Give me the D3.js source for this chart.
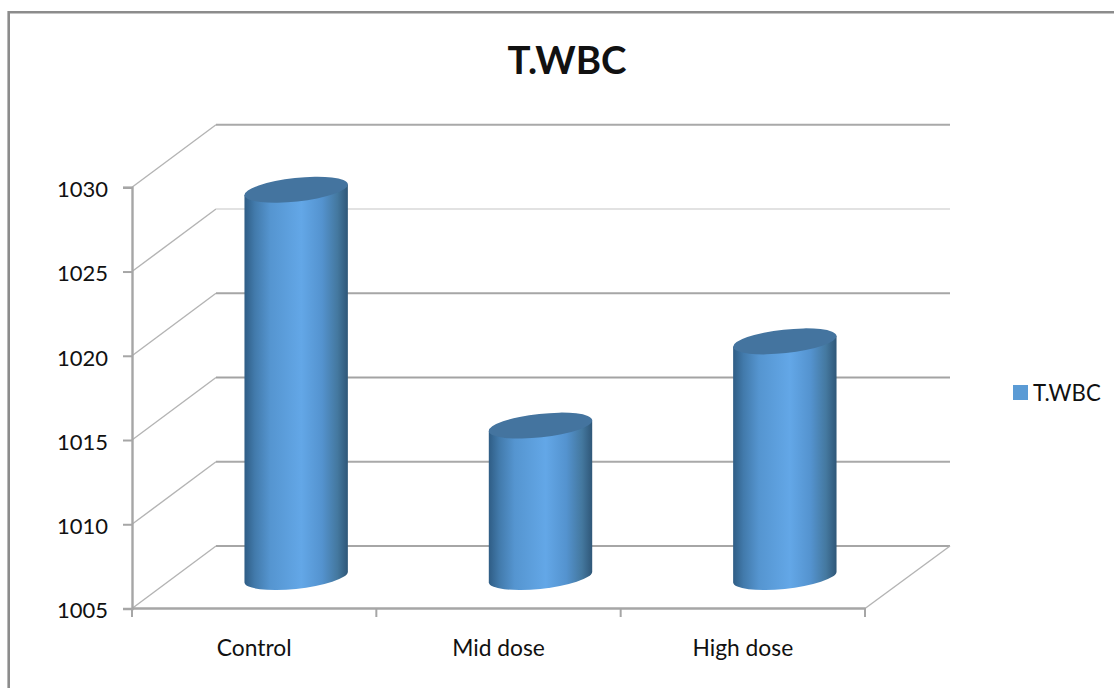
<!DOCTYPE html>
<html>
<head>
<meta charset="utf-8">
<script src="https://cdn.jsdelivr.net/npm/d3@7/dist/d3.min.js"></script>
<style>
  html, body { margin: 0; padding: 0; background: #fff; }
  svg { display: block; }
  text { font-family: Lato, "Open Sans", sans-serif; fill: #111; }
</style>
</head>
<body>
<svg id="chart" width="1114" height="688"></svg>
<script>
// Chart content
const chartTitle = "T.WBC";
const seriesName = "T.WBC";
const categories = ["Control", "Mid dose", "High dose"];
const seriesValues = [1028, 1014, 1019];
const valueTicks = [1005, 1010, 1015, 1020, 1025, 1030];
const gridShades = ["#a6a6a6", "#a9a9a9", "#a3a3a3", "#a6a6a6", "#e2e2e2", "#a9a9a9"];
const cylinderStops = [
  [0, "#2f5d85"], [0.1, "#427aab"], [0.25, "#5595d0"], [0.55, "#63a7e7"],
  [0.75, "#5493cf"], [0.9, "#44789f"], [1, "#2f5778"]
];

const svg = d3.select("#chart");

// Front plane scales; the back wall is the same plane shifted by the depth vector
const x = d3.scaleBand().domain(categories).range([132, 865]);
const y = d3.scaleLinear().domain([1005, 1030]).range([608.5, 187.3]);
const depth = { dx: 84, dy: -62.5 };
const project = (px, value, d) => [px + depth.dx * d, y(value) + depth.dy * d];

// Outer frame: only the top and left edges fall inside the view
svg.append("path")
  .attr("d", "M1114,12.3H8.7V688")
  .attr("fill", "none").attr("stroke", "#8c8c8c").attr("stroke-width", 2.6);

// Title
svg.append("text").attr("x", 567).attr("y", 73.5)
  .attr("text-anchor", "middle")
  .style("font-size", "38.5px").style("font-weight", 700)
  .text(chartTitle);

// Back wall gridlines and their return along the side wall
const grid = svg.append("g").attr("fill", "none");
valueTicks.forEach((v, i) => {
  const front = project(132, v, 0);
  const back = project(132, v, 1);
  const end = project(866, v, 1);
  grid.append("line")
    .attr("x1", front[0]).attr("y1", front[1]).attr("x2", back[0]).attr("y2", back[1])
    .attr("stroke", "#b4b4b4").attr("stroke-width", 1.4);
  grid.append("line")
    .attr("x1", back[0]).attr("y1", back[1]).attr("x2", end[0]).attr("y2", end[1])
    .attr("stroke", gridShades[i]).attr("stroke-width", 2);
});

// Right edge of the floor
const floorFront = project(865, 1005, 0);
const floorBack = project(866, 1005, 1);
grid.append("line")
  .attr("x1", floorFront[0]).attr("y1", floorFront[1]).attr("x2", floorBack[0]).attr("y2", floorBack[1])
  .attr("stroke", "#b4b4b4").attr("stroke-width", 1.4);

// Value axis
const yAxis = svg.append("g").attr("transform", "translate(132,0)")
  .call(d3.axisLeft(y).tickValues(valueTicks).tickFormat(d3.format("d")).tickSize(9).tickPadding(15));
// Category axis, labelled at band centres
const xAxis = svg.append("g").attr("transform", "translate(0,608)")
  .call(d3.axisBottom(x).tickSize(0).tickPadding(32));
[yAxis, xAxis].forEach(a => {
  a.selectAll("text").style("font-family", "Lato, 'Open Sans', sans-serif").attr("fill", "#111");
  a.selectAll("path.domain").attr("stroke", "#a6a6a6").attr("stroke-width", 2.4);
  a.selectAll(".tick line").attr("stroke", "#a6a6a6").attr("stroke-width", 2);
});
yAxis.selectAll("text").style("font-size", "22px").attr("dy", "0.42em");
xAxis.selectAll("text").style("font-size", "22.8px");
// Tick marks sit between the categories
xAxis.selectAll("line.boundary")
  .data([...categories.map(c => x(c)), x.range()[1]])
  .join("line").attr("class", "boundary")
  .attr("x1", d => d).attr("x2", d => d).attr("y1", 0).attr("y2", 9)
  .attr("stroke", "#a6a6a6").attr("stroke-width", 2);

// Cylinder shading
const defs = svg.append("defs");
const grad = defs.append("linearGradient").attr("id", "cylinderSide")
  .attr("x1", 0).attr("x2", 1).attr("y1", 0).attr("y2", 0);
cylinderStops.forEach(s => grad.append("stop").attr("offset", s[0]).attr("stop-color", s[1]));

// Cylinders stand at mid depth; the ends are ellipses tilted by the view angle
const rx = 52, ry = 11.8, tilt = -6.2;
const halfWidth = 51.7, lean = 5.3;
const cylinders = svg.append("g").selectAll("g")
  .data(categories.map((c, i) => ({ category: c, value: seriesValues[i] })))
  .join("g");

cylinders.append("path")
  .attr("fill", "url(#cylinderSide)")
  .attr("d", d => {
    const cx = project(x(d.category) + x.bandwidth() / 2, d.value, 0.5)[0];
    const top = project(0, d.value, 0.5)[1];
    const base = project(0, 1005, 0.5)[1];
    return `M${cx - halfWidth},${top + lean}` +
      `L${cx - halfWidth},${base + lean}` +
      `A${rx},${ry} ${tilt} 0 0 ${cx + halfWidth},${base - lean}` +
      `L${cx + halfWidth},${top - lean}Z`;
  });

cylinders.append("ellipse")
  .attr("rx", rx).attr("ry", ry)
  .attr("fill", "#44749f")
  .attr("transform", d => {
    const cx = project(x(d.category) + x.bandwidth() / 2, d.value, 0.5)[0];
    const top = project(0, d.value, 0.5)[1];
    return `translate(${cx},${top}) rotate(${tilt})`;
  });

// Legend
const legend = svg.append("g");
legend.append("rect").attr("x", 1013).attr("y", 385).attr("width", 15).attr("height", 15).attr("fill", "#5b9bd5");
legend.append("text").attr("x", 1033).attr("y", 400.5).style("font-size", "22.2px").text(seriesName);
</script>
</body>
</html>
